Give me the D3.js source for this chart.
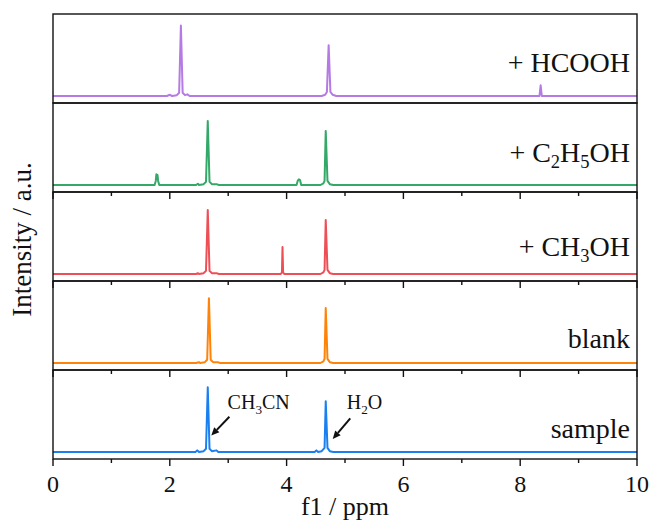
<!DOCTYPE html>
<html>
<head>
<meta charset="utf-8">
<script src="https://cdn.jsdelivr.net/npm/d3@7"></script>
<style>
  body { margin: 0; background: #fff; }
  svg text { font-family: "Liberation Serif", "Times New Roman", serif; fill: #111; }
</style>
</head>
<body>
<div id="chart"></div>
<script>
// --- Spectra, [ppm, intensity], top panel first ---
const hcooh = [[0, 0], [1.95, 0], [2.0, 0.015], [2.04, 0], [2.12, 0.01], [2.16, 0.04], [2.19, 0.86], [2.22, 0.04],
  [2.26, 0.01], [2.3, 0.02], [2.34, 0], [4.6, 0], [4.66, 0.015], [4.69, 0.05], [4.72, 0.62], [4.75, 0.05],
  [4.79, 0.015], [4.85, 0], [8.33, 0], [8.35, 0.13], [8.37, 0], [10, 0]];
const ethanol = [[0, 0], [1.74, 0], [1.76, 0.05], [1.77, 0.13], [1.79, 0.12], [1.8, 0.05], [1.82, 0], [2.45, 0],
  [2.48, 0.015], [2.5, 0], [2.58, 0.01], [2.62, 0.04], [2.65, 0.78], [2.68, 0.04], [2.72, 0.01], [2.8, 0.01],
  [2.84, 0], [4.17, 0], [4.19, 0.05], [4.21, 0.07], [4.23, 0.06], [4.25, 0], [4.58, 0], [4.63, 0.02],
  [4.65, 0.05], [4.67, 0.66], [4.7, 0.05], [4.74, 0.01], [4.8, 0], [10, 0]];
const methanol = [[0, 0], [2.45, 0], [2.48, 0.01], [2.5, 0], [2.58, 0.01], [2.62, 0.04], [2.65, 0.78], [2.68, 0.04],
  [2.72, 0.01], [2.8, 0.01], [2.84, 0], [3.9, 0], [3.92, 0.02], [3.93, 0.33], [3.94, 0.02], [3.96, 0],
  [4.58, 0], [4.63, 0.02], [4.65, 0.05], [4.67, 0.66], [4.7, 0.05], [4.74, 0.01], [4.8, 0], [10, 0]];
const blank = [[0, 0], [2.45, 0], [2.5, 0.01], [2.52, 0], [2.6, 0.01], [2.64, 0.04], [2.67, 0.79], [2.7, 0.04],
  [2.74, 0.01], [2.82, 0.01], [2.86, 0], [4.58, 0], [4.63, 0.02], [4.65, 0.05], [4.67, 0.67], [4.7, 0.05],
  [4.74, 0.01], [4.8, 0], [10, 0]];
const sample = [[0, 0], [2.44, 0], [2.47, 0.02], [2.5, 0], [2.58, 0.01], [2.62, 0.04], [2.65, 0.79], [2.68, 0.04],
  [2.72, 0.01], [2.8, 0.02], [2.83, 0], [4.48, 0], [4.51, 0.02], [4.54, 0], [4.6, 0.01], [4.65, 0.05],
  [4.67, 0.62], [4.7, 0.05], [4.74, 0.01], [4.8, 0], [10, 0]];

const spectra = [hcooh, ethanol, methanol, blank, sample];
const colors = ["#b57ae3", "#34a868", "#ee4f57", "#ff8308", "#1a80f2"];
// labels as [text, isSubscript] parts
const labels = [
  [["+ HCOOH", false]],
  [["+ C", false], ["2", true], ["H", false], ["5", true], ["OH", false]],
  [["+ CH", false], ["3", true], ["OH", false]],
  [["blank", false]],
  [["sample", false]]
];
const labelOffsets = [58, 59, 64, 67, 68];
const xTicks = [0, 2, 4, 6, 8, 10];
const xMinorTicks = [1, 3, 5, 7, 9];

// arrows in the sample panel: text anchor, arrow tail, arrow tip, all [ppm, intensity]
const annotations = [
  { parts: [["CH", false], ["3", true], ["CN", false]], text: [2.99, 0.52], tail: [3.02, 0.43], tip: [2.71, 0.2] },
  { parts: [["H", false], ["2", true], ["O", false]], text: [5.03, 0.52], tail: [5.09, 0.41], tip: [4.79, 0.16] }
];

const width = 654, height = 524;
const margin = { top: 14, right: 17, bottom: 65, left: 53 };
const plotW = width - margin.left - margin.right;
const panelH = (height - margin.top - margin.bottom) / spectra.length;

const svg = d3.select("#chart").append("svg")
  .attr("width", width)
  .attr("height", height);

const x = d3.scaleLinear().domain([0, 10]).range([margin.left, margin.left + plotW]);

// writes text parts, shifting subscripts down and back up
function addParts(textSel, parts, size) {
  let shift = 0;
  parts.forEach(([t, sub]) => {
    const s = sub ? size * 0.22 : 0;
    textSel.append("tspan")
      .attr("font-size", sub ? size * 0.66 : size)
      .attr("dy", s - shift)
      .text(t);
    shift = s;
  });
}

spectra.forEach((data, i) => {
  const top = margin.top + i * panelH;
  const y = d3.scaleLinear().domain([0, 1]).range([top + panelH - 7, top + panelH - 7 - 82]);

  const line = d3.line().x(d => x(d[0])).y(d => y(d[1]));

  svg.append("path")
    .datum(data)
    .attr("fill", "none")
    .attr("stroke", colors[i])
    .attr("stroke-width", 2)
    .attr("stroke-linejoin", "round")
    .attr("d", line);

  svg.append("rect")
    .attr("x", margin.left).attr("y", top)
    .attr("width", plotW).attr("height", panelH)
    .attr("fill", "none")
    .attr("stroke", "#111")
    .attr("stroke-width", 1.4);

  // ticks hang down from the panel bottom (none for the top panel)
  if (i > 0) {
    const g = svg.append("g").attr("stroke", "#111").attr("stroke-width", 1.4);
    g.selectAll(".maj").data(xTicks).enter().append("line")
      .attr("x1", d => x(d)).attr("x2", d => x(d))
      .attr("y1", top + panelH).attr("y2", top + panelH + 7);
    g.selectAll(".min").data(xMinorTicks).enter().append("line")
      .attr("x1", d => x(d)).attr("x2", d => x(d))
      .attr("y1", top + panelH).attr("y2", top + panelH + 4);
  }

  const lab = svg.append("text")
    .attr("x", 630)
    .attr("y", top + labelOffsets[i])
    .attr("font-size", 28)
    .attr("text-anchor", "end");
  addParts(lab, labels[i], 28);

  if (i === spectra.length - 1) {
    annotations.forEach(a => {
      const t = svg.append("text").attr("x", x(a.text[0])).attr("y", y(a.text[1])).attr("font-size", 20);
      addParts(t, a.parts, 20);
      const x1 = x(a.tail[0]), y1 = y(a.tail[1]), x2 = x(a.tip[0]), y2 = y(a.tip[1]);
      const ang = Math.atan2(y2 - y1, x2 - x1);
      const hl = 8, hw = 3.6;
      const bx = x2 - hl * Math.cos(ang), by = y2 - hl * Math.sin(ang);
      svg.append("line")
        .attr("x1", x1).attr("y1", y1).attr("x2", bx).attr("y2", by)
        .attr("stroke", "#111").attr("stroke-width", 2);
      svg.append("path")
        .attr("d", `M${x2},${y2}L${bx - hw * Math.sin(ang)},${by + hw * Math.cos(ang)}L${bx + hw * Math.sin(ang)},${by - hw * Math.cos(ang)}Z`)
        .attr("fill", "#111");
    });
  }
});

// x tick labels and titles
const bottom = margin.top + spectra.length * panelH;
svg.selectAll(".xl").data(xTicks).enter().append("text")
  .attr("x", d => x(d))
  .attr("y", bottom + 33)
  .attr("text-anchor", "middle")
  .attr("font-size", 24)
  .text(d => d);

svg.append("text")
  .attr("x", margin.left + plotW / 2)
  .attr("y", bottom + 56)
  .attr("text-anchor", "middle")
  .attr("font-size", 26)
  .text("f1 / ppm");

svg.append("text")
  .attr("transform", `translate(31,${margin.top + spectra.length * panelH / 2 + 3}) rotate(-90)`)
  .attr("text-anchor", "middle")
  .attr("font-size", 27)
  .text("Intensity / a.u.");
</script>
</body>
</html>
